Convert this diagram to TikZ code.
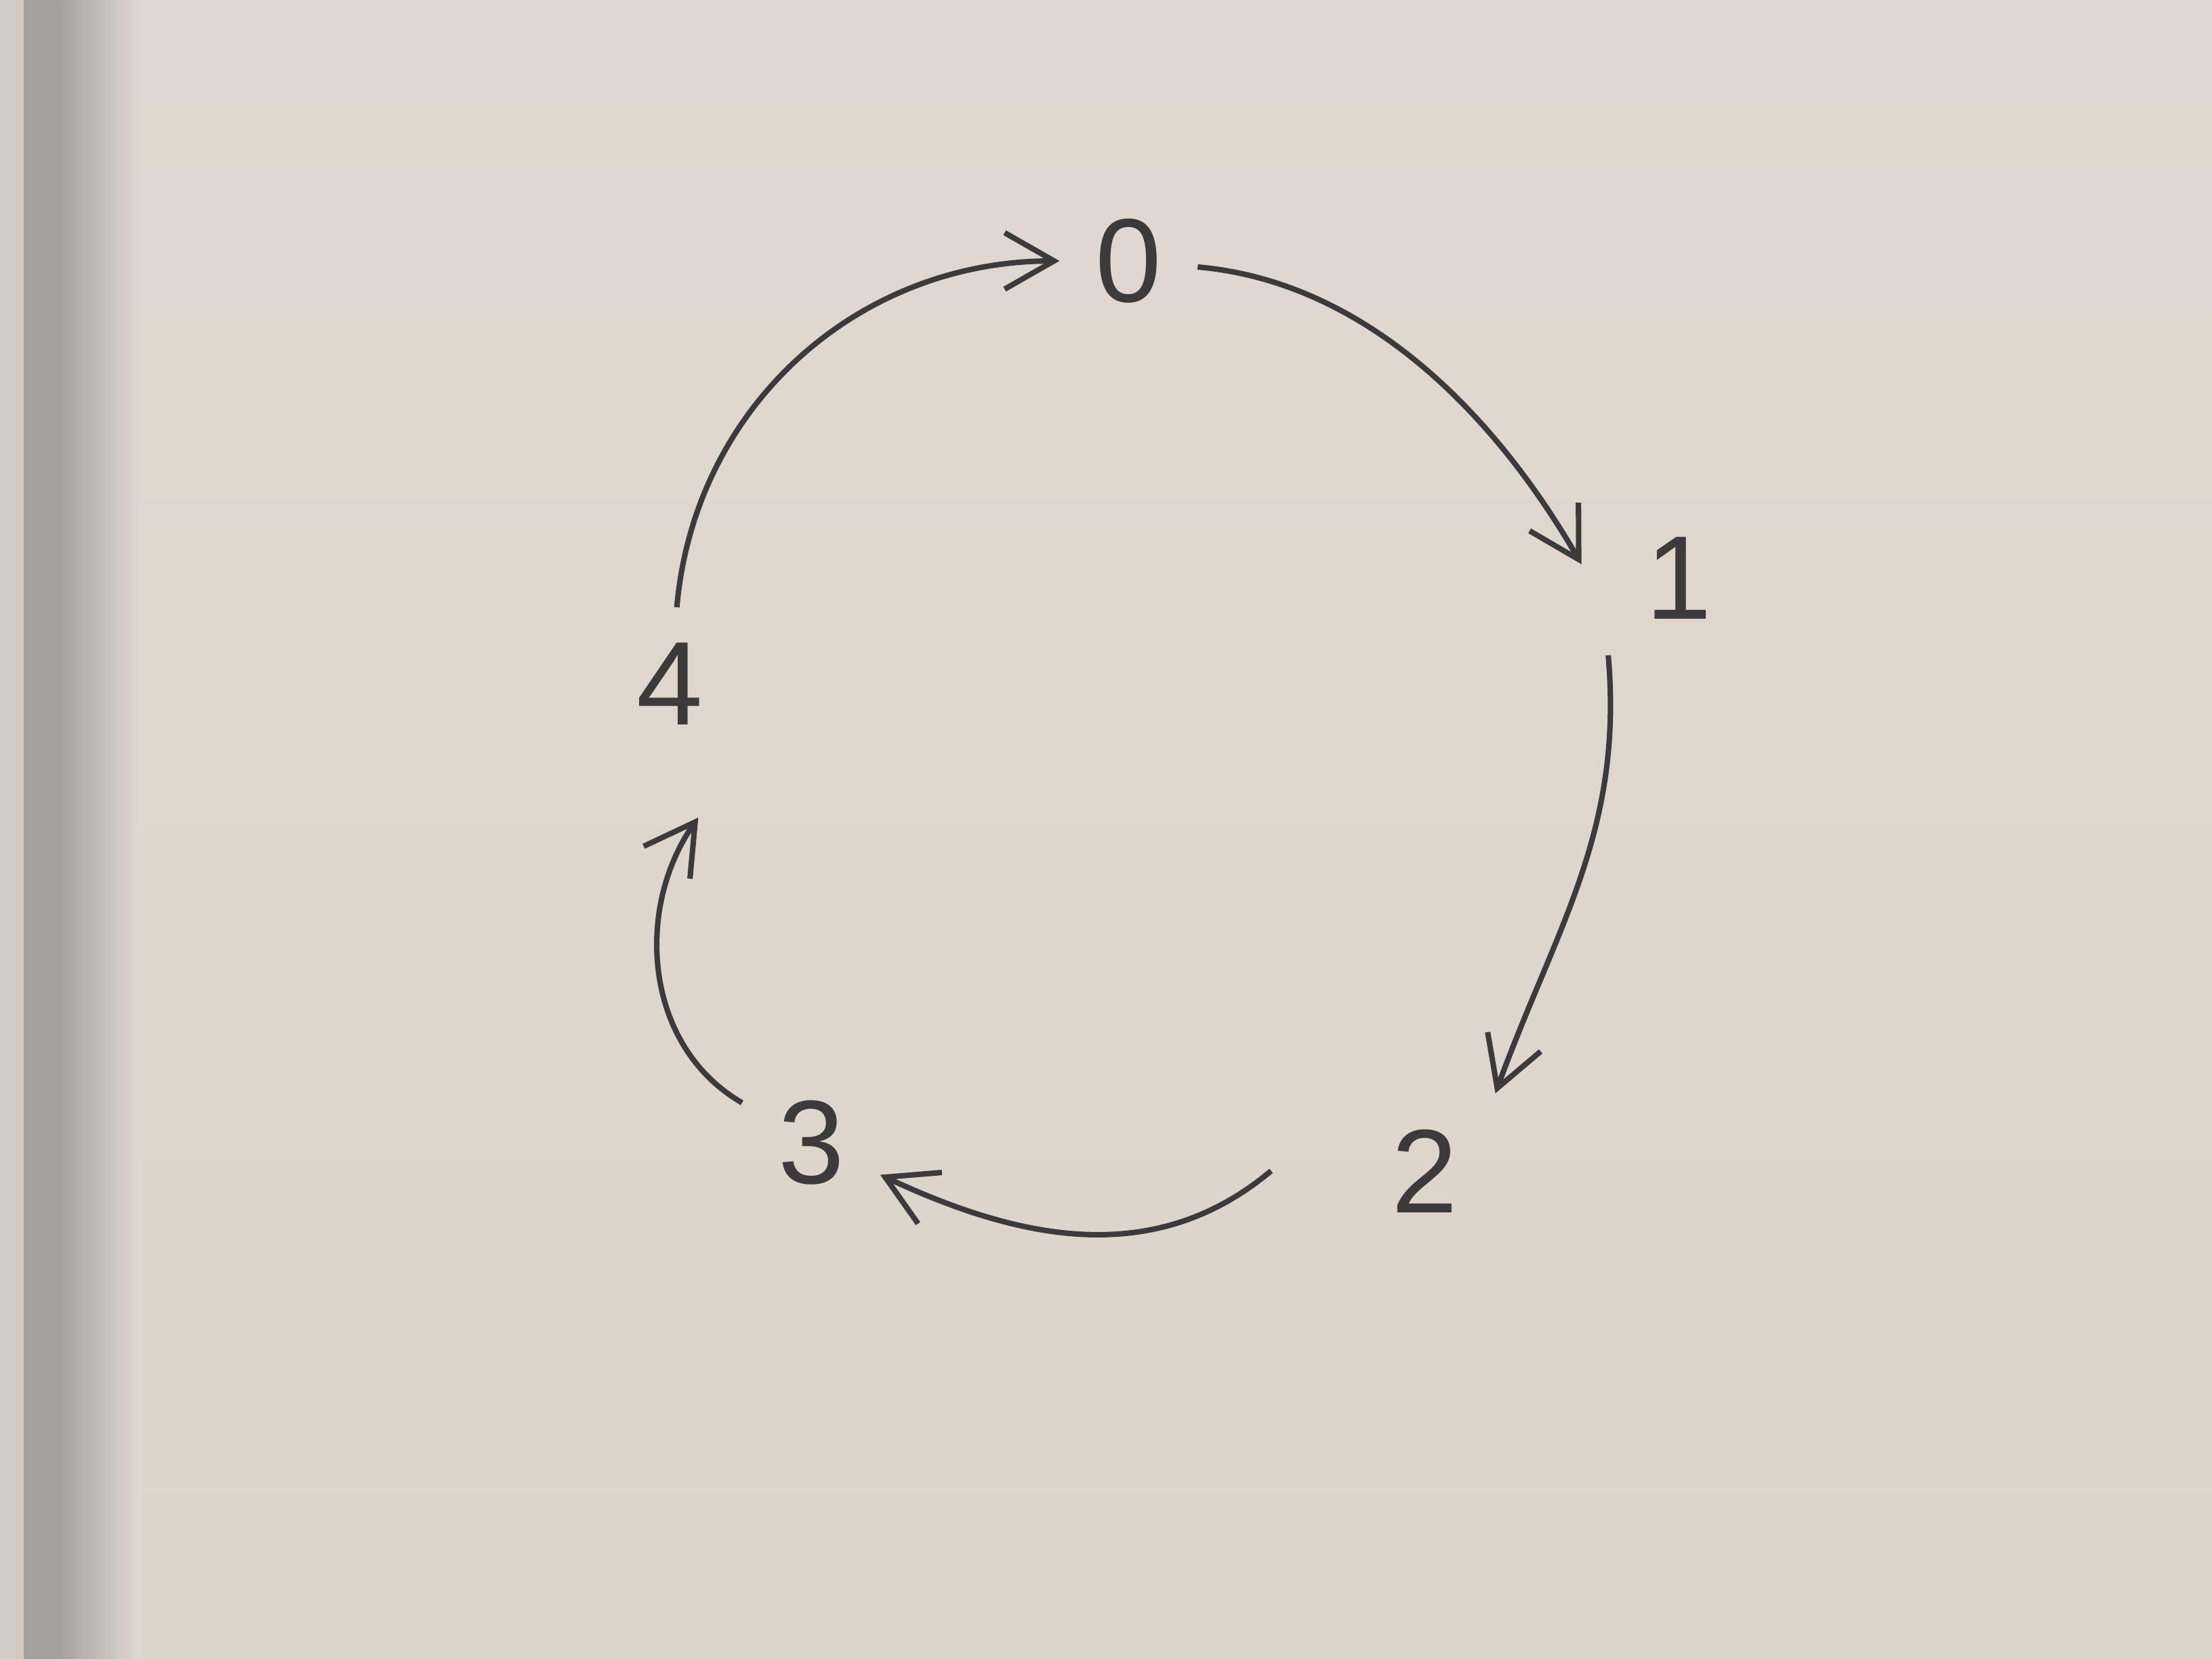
\documentclass[tikz,border=0pt]{standalone}
\usepackage{fontspec}
\setmainfont{Liberation Sans}
\usetikzlibrary{positioning, arrows.meta}
\definecolor{board}{RGB}{224,217,209}
\definecolor{boardlow}{RGB}{220,212,201}
\definecolor{frame}{RGB}{165,160,160}
\definecolor{ink}{RGB}{60,58,58}

\begin{document}
\begin{tikzpicture}[>={Straight Barb[length=3.5mm, width=4mm]}, font=\fontsize{24}{24}\selectfont]

    \tikzstyle{state} = [text=ink, inner sep=1pt, outer sep=0.22cm]
    \tikzstyle{link} = [->, draw=ink, line width=1.1pt]

    % Whiteboard
    \shade[top color=board, bottom color=boardlow] (0,0) rectangle (15.68,11.76);
    \fill[board!75!frame] (0,0) rectangle (0.17,11.76);
    \fill[frame] (0.17,0) rectangle (0.42,11.76);
    \shade[left color=frame, right color=board] (0.42,0) rectangle (1.0,11.76);
    \useasboundingbox (0,0) rectangle (15.68,11.76);

    % States
    \node[state] (n0) at (8.00, 9.91) {0};
    \node[state] (n1) at (11.90, 7.66) {1};
    \node[state] (n2) at (10.10, 3.46) {2};
    \node[state] (n3) at (5.75, 3.66) {3};
    \node[state] (n4) at (4.75, 6.91) {4};

    % Cycle
    \draw[link] (n0) to[out=-5, in=120, looseness=0.9] ([xshift=-2mm, yshift=1mm]n1.west);
    \draw[link] ([xshift=-5mm]n1.south) to[out=-85, in=70] ([xshift=5mm]n2.north);
    \draw[link] ([xshift=-6mm]n2.west) to[out=-140, in=-25] (n3);
    \draw[link] (n3) to[out=150, in=-125] ([xshift=2mm, yshift=-4mm]n4.south);
    \draw[link] (n4) to[out=85, in=180] (n0);
\end{tikzpicture}
\end{document}
